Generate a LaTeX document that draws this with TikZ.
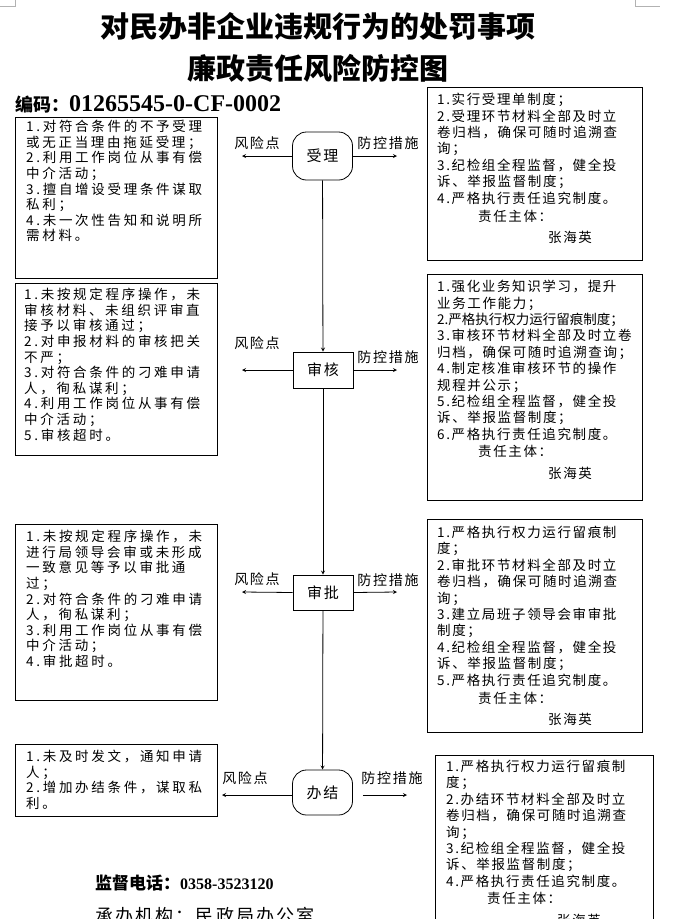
\documentclass[tikz,border=0pt]{standalone}
\usepackage{fontspec}
\setmainfont{Noto Sans CJK SC}
\newfontfamily\riskfont[LetterSpace=20]{Noto Sans CJK SC}
\newfontfamily\measurefont[LetterSpace=12]{Noto Sans CJK SC}
\newfontfamily\timesfont{Liberation Serif}
\usetikzlibrary{positioning, arrows.meta}

\begin{document}
\begin{tikzpicture}[x=1pt, y=-1pt,
        box_frame/.style={draw, line width=0.8pt, inner sep=0pt, anchor=north west},
        box_risk/.style={anchor=north west, inner sep=0pt, align=left, font=\riskfont\fontsize{13.5}{15.6}\selectfont},
        box_measure/.style={anchor=north west, inner sep=0pt, align=left, font=\measurefont\fontsize{13.5}{16.4}\selectfont},
        step_round/.style={draw, line width=0.8pt, rounded corners=14pt, minimum width=60pt, minimum height=48pt, font=\measurefont\fontsize{15}{15}\selectfont},
        step_rect/.style={draw, line width=0.8pt, minimum width=60pt, minimum height=36pt, font=\measurefont\fontsize{15}{15}\selectfont},
        arrow/.style={->, >=stealth, line width=0.8pt},
        arrow_label/.style={font=\measurefont\fontsize{14}{14}\selectfont, inner sep=0pt}
    ]
    \useasboundingbox (0,0) rectangle (678,919);

    % page marks
    \draw[gray!60, line width=0.5pt] (15,0) -- (15,6) -- (0,6);
    \draw[gray!60, line width=0.5pt] (635,0) -- (635,6) -- (660,6);

    % ==================== Title ====================
    \node[font=\bfseries\fontsize{29}{29}\selectfont] (title_a) at (318,26) {对民办非企业违规行为的处罚事项};
    \node[font=\bfseries\fontsize{29}{29}\selectfont] (title_b) at (318,68) {廉政责任风险防控图};
    \node[anchor=west, inner sep=0pt, font=\bfseries\fontsize{18}{18}\selectfont] (code) at (15,104) {编码：{\timesfont\bfseries\fontsize{24}{24}\selectfont 01265545-0-CF-0002}};

    % ==================== Steps ====================
    \node[step_round] (shouli) at (322.5,156) {受理};
    \node[step_rect] (shenhe) at (323,370) {审核};
    \node[step_rect, minimum height=35pt] (shenpi) at (323,592.5) {审批};
    \node[step_round, minimum height=45pt] (banjie) at (322.5,792.5) {办结};

    \draw[arrow] (shouli) -- (shenhe);
    \draw[arrow] (shenhe) -- (shenpi);
    \draw[arrow] (shenpi) -- (banjie);

    % side arrows
    \coordinate (shouli_l) at (242,156);
    \coordinate (shouli_r) at (397,156);
    \coordinate (shenhe_l) at (242,370);
    \coordinate (shenhe_r) at (397,370);
    \coordinate (shenpi_l) at (242,592);
    \coordinate (shenpi_r) at (397,592);
    \coordinate (banjie_l) at (222,795);
    \coordinate (banjie_r) at (407,795);

    \draw[arrow] (shouli.west) -- (shouli_l);
    \draw[arrow] (shouli.east) -- (shouli_r);
    \draw[arrow] (shenhe.west) -- (shenhe_l);
    \draw[arrow] (shenhe.east) -- (shenhe_r);
    \draw[arrow] (shenpi.west) -- (shenpi_l);
    \draw[arrow] (shenpi.east) -- (shenpi_r);
    \draw[arrow] (banjie.west |- banjie_l) -- (banjie_l);
    \draw[arrow, shorten <=10pt] (banjie.east |- banjie_r) -- (banjie_r);

    \node[arrow_label] (shouli_risk) at (257,143) {风险点};
    \node[arrow_label] (shouli_ctrl) at (388,143) {防控措施};
    \node[arrow_label] (shenhe_risk) at (257,343) {风险点};
    \node[arrow_label] (shenhe_ctrl) at (388,357) {防控措施};
    \node[arrow_label] (shenpi_risk) at (257,579) {风险点};
    \node[arrow_label] (shenpi_ctrl) at (388,580) {防控措施};
    \node[arrow_label] (banjie_risk) at (245,778) {风险点};
    \node[arrow_label] (banjie_ctrl) at (392,778) {防控措施};

    % ==================== Risk boxes (left) ====================
    \node[box_frame, minimum width=202pt, minimum height=161pt] (risk_a) at (15,117) {};
    \node[box_risk] (risk_a_text) at (26,120) {1.对符合条件的不予受理\\或无正当理由拖延受理；\\2.利用工作岗位从事有偿\\中介活动；\\3.擅自增设受理条件谋取\\私利；\\4.未一次性告知和说明所\\需材料。};

    \node[box_frame, minimum width=202pt, minimum height=172pt] (risk_b) at (15,283) {};
    \node[box_risk] (risk_b_text) at (24,288) {1.未按规定程序操作，未\\审核材料、未组织评审直\\接予以审核通过；\\2.对申报材料的审核把关\\不严；\\3.对符合条件的刁难申请\\人，徇私谋利；\\4.利用工作岗位从事有偿\\中介活动；\\5.审核超时。};

    \node[box_frame, minimum width=202pt, minimum height=176pt] (risk_c) at (15,524) {};
    \node[box_risk] (risk_c_text) at (26,530) {1.未按规定程序操作，未\\进行局领导会审或未形成\\一致意见等予以审批通\\过；\\2.对符合条件的刁难申请\\人，徇私谋利；\\3.利用工作岗位从事有偿\\中介活动；\\4.审批超时。};

    \node[box_frame, minimum width=202pt, minimum height=72pt] (risk_d) at (15,744) {};
    \node[box_risk] (risk_d_text) at (26,750) {1.未及时发文，通知申请\\人；\\2.增加办结条件，谋取私\\利。};

    % ==================== Measure boxes (right) ====================
    \node[box_frame, minimum width=215pt, minimum height=173pt] (ctrl_a) at (427,87) {};
    \node[box_measure] (ctrl_a_text) at (437,93) {1.实行受理单制度；\\2.受理环节材料全部及时立\\卷归档，确保可随时追溯查\\询；\\3.纪检组全程监督，健全投\\诉、举报监督制度；\\4.严格执行责任追究制度。\\[2pt]\hspace*{41pt}责任主体：\\[5pt]\hspace*{111pt}张海英};

    \node[box_frame, minimum width=215pt, minimum height=226pt] (ctrl_b) at (427,274) {};
    \node[box_measure] (ctrl_b_text) at (437,280) {1.强化业务知识学习，提升\\业务工作能力；\\{\setmainfont{Noto Sans CJK SC}\normalfont\fontsize{13.5}{16.4}\selectfont 2.严格执行权力运行留痕制度；}\\3.审核环节材料全部及时立卷\\归档，确保可随时追溯查询；\\4.制定核准审核环节的操作\\规程并公示；\\5.纪检组全程监督，健全投\\诉、举报监督制度；\\6.严格执行责任追究制度。\\[1pt]\hspace*{41pt}责任主体：\\[5pt]\hspace*{111pt}张海英};

    \node[box_frame, minimum width=215pt, minimum height=213pt] (ctrl_c) at (427,519) {};
    \node[box_measure] (ctrl_c_text) at (437,526) {1.严格执行权力运行留痕制\\度；\\2.审批环节材料全部及时立\\卷归档，确保可随时追溯查\\询；\\3.建立局班子领导会审审批\\制度；\\4.纪检组全程监督，健全投\\诉、举报监督制度；\\5.严格执行责任追究制度。\\[2pt]\hspace*{41pt}责任主体：\\[5pt]\hspace*{111pt}张海英};

    \node[box_frame, minimum width=218pt, minimum height=180pt] (ctrl_d) at (435,755) {};
    \node[box_measure] (ctrl_d_text) at (446,760) {1.严格执行权力运行留痕制\\度；\\2.办结环节材料全部及时立\\卷归档，确保可随时追溯查\\询；\\3.纪检组全程监督，健全投\\诉、举报监督制度；\\4.严格执行责任追究制度。\\[1pt]\hspace*{41pt}责任主体：\\[5pt]\hspace*{111pt}张海英};

    % ==================== Footer ====================
    \node[anchor=west, inner sep=0pt, font=\bfseries\fontsize{17}{17}\selectfont] (phone) at (95,883) {监督电话：{\timesfont\bfseries\fontsize{16}{16}\selectfont 0358-3523120}};
    \node[anchor=west, inner sep=0pt, font=\measurefont\fontsize{18}{18}\selectfont] (agency) at (95,916) {承办机构：民政局办公室};

\end{tikzpicture}
\end{document}
